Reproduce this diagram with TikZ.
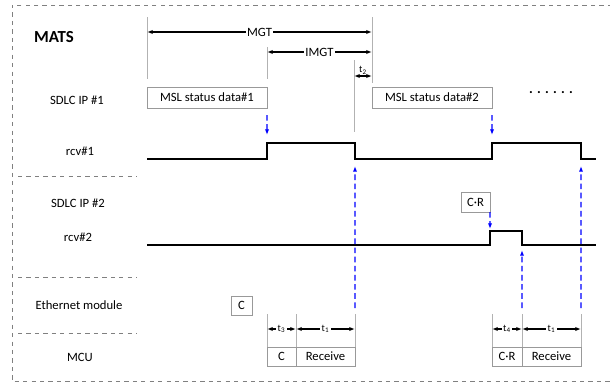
\documentclass[tikz,border=0pt]{standalone}
\usepackage{fontspec}
\setmainfont{Carlito}
\usetikzlibrary{arrows.meta,positioning}

\begin{document}
\begin{tikzpicture}[
x=0.025cm, y=-0.025cm,
box/.style={draw=gray!80, inner sep=0pt, outer sep=0pt, font=\small},
lbl/.style={font=\small},
sig/.style={line width=1.1pt},
span/.style={{Latex[length=4pt,width=3pt]}-{Latex[length=4pt,width=3pt]}, thick},
tick/.style={draw=gray!60},
trig/.style={-{Latex[length=4pt,width=3pt]}, blue, dash pattern=on 4pt off 2.5pt, thick},
sep/.style={dashed, gray}
]
\useasboundingbox (0,0) rectangle (610,383);
% frame and row separators
\draw[sep] (612,5) -- (12,5) -- (12,381) -- (612,381);
\draw[sep] (18,176) -- (137,176);
\draw[sep] (18,277) -- (137,277);
\draw[sep] (18,333) -- (137,333);
% row labels
\node[font=\large\bfseries] (mats) at (54,37) {MATS};
\node[lbl] (sdlc1) at (77,100) {SDLC IP \#1};
\node[lbl] (rcv1) at (80,151) {rcv\#1};
\node[lbl] (sdlc2) at (78,203) {SDLC IP \#2};
\node[lbl] (rcv2) at (78,237) {rcv\#2};
\node[lbl] (eth) at (79,305) {Ethernet module};
\node[lbl] (mcu) at (80,357) {MCU};
% data boxes
\node[box, minimum width=3cm, minimum height=0.525cm] (msl1) at (207,97.5) {MSL status data\#1};
\node[box, minimum width=3cm, minimum height=0.525cm] (msl2) at (432,97.5) {MSL status data\#2};
\node[font=\normalsize\bfseries] (more) at (551,93) {. . . . . .};
\node[box, minimum width=0.725cm, minimum height=0.5cm] (cr) at (475.5,202) {C·R};
\node[box, minimum width=0.525cm, minimum height=0.475cm] (ethc) at (241.5,305.5) {C};
\node[box, minimum width=0.725cm, minimum height=0.475cm] (mcuc) at (281.5,356.5) {C};
\node[box, minimum width=1.475cm, minimum height=0.475cm, right=0pt of mcuc] (recv1) {Receive};
\node[box, minimum width=0.75cm, minimum height=0.475cm] (mcucr) at (507,356.5) {C·R};
\node[box, minimum width=1.475cm, minimum height=0.475cm, right=0pt of mcucr] (recv2) {Receive};
% waveforms
\draw[sig] (147,159) -- (267,159) -- (267,143) -- (355,143) -- (355,159)
  -- (492,159) -- (492,143) -- (581,143) -- (581,159) -- (596,159);
\draw[sig] (147,245) -- (490,245) -- (490,231) -- (522,231) -- (522,245) -- (596,245);
% MGT / IMGT / t2
\coordinate (mgtl) at (147,32);
\coordinate (mgtr) at (372,32);
\coordinate (imgtl) at (267,52);
\coordinate (imgtr) at (372,52);
\draw[tick] (147,17) -- (147,79);
\draw[tick] (372,17) -- (372,83);
\draw[tick] (267,47) -- (267,79);
\draw[tick] (354,60) -- (354,132);
\draw[span] (mgtl) -- node[fill=white, inner sep=1pt, lbl] {MGT} (mgtr);
\draw[span] (imgtl) -- node[fill=white, inner sep=1pt, lbl] {IMGT} (imgtr);
\draw[span] (354,76) -- node[above, inner sep=1pt, font=\scriptsize] {t\textsubscript{2}} (372,76);
% triggers
\draw[trig] ([yshift=-5pt]msl1.south east) -- (267,135);
\draw[trig] ([yshift=-5pt]msl2.south east) -- (492,135);
\draw[trig] (cr.south east) -- (490,229);
\draw[trig] (recv1.north east) ++(0,-39) -- (355,166);
\draw[trig] (recv2.north west) ++(0,-39) -- (522,250);
\draw[trig] (recv2.north east) ++(0,-39) -- (581,166);
% MCU timing
\foreach \x in {267,296,355,492,522,581}
  \draw[tick] (\x,314) -- (\x,347);
\draw[span] (mcuc.north west) ++(0,-18) -- node[fill=white, inner sep=1pt, font=\scriptsize] {t\textsubscript{3}} ++(29,0);
\draw[span] (recv1.north west) ++(0,-18) -- node[fill=white, inner sep=1pt, font=\scriptsize] {t\textsubscript{1}} ++(59,0);
\draw[span] (mcucr.north west) ++(0,-18) -- node[fill=white, inner sep=1pt, font=\scriptsize] {t\textsubscript{4}} ++(30,0);
\draw[span] (recv2.north west) ++(0,-18) -- node[fill=white, inner sep=1pt, font=\scriptsize] {t\textsubscript{1}} ++(59,0);
\end{tikzpicture}
\end{document}
